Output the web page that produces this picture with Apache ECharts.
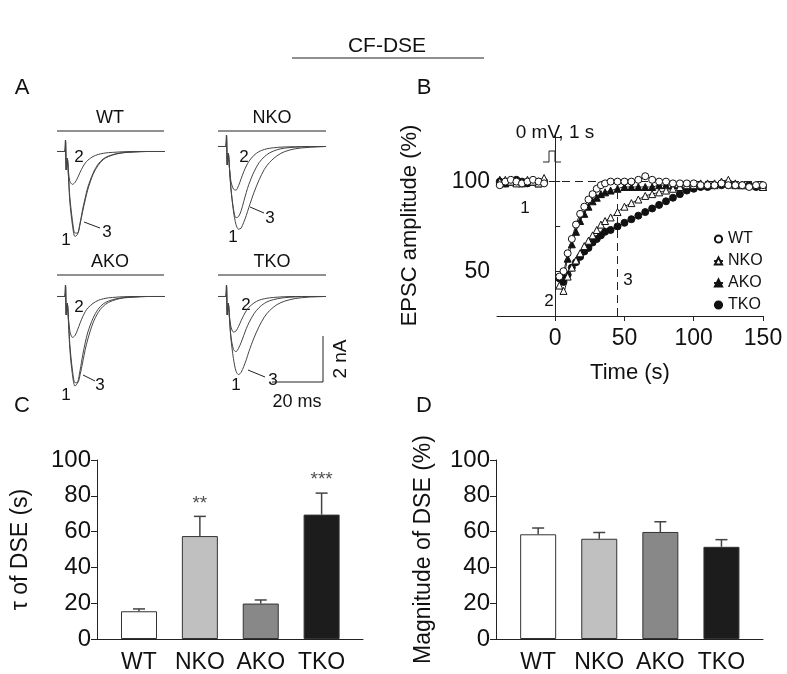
<!DOCTYPE html>
<html>
<head>
<meta charset="utf-8">
<script src="https://cdn.jsdelivr.net/npm/echarts@6/dist/echarts.min.js"></script>
<style>
    html, body { margin: 0; padding: 0; background: #fff; }
    #main { width: 787px; height: 674px; }
</style>
</head>
<body>
<div id="main"></div>
<script type="text/javascript">
// panel A: example EPSC traces (nA) sampled at tA (ms); 1 = before, 2 = just after, 3 = ~45 s after
var tA = [0, 3, 3.3, 3.6, 4, 4.5, 5, 6, 7, 8, 9, 10, 11, 12, 14, 16, 18, 20, 23, 26, 30, 35, 42];
var wt1 = [0, 0, 0.5, -0.8, -0.3, -1.2, -2.2, -3.2, -3.7, -3.6, -3.1, -2.5, -2.0, -1.55, -0.95, -0.55, -0.32, -0.2, -0.1, -0.05, -0.02, 0, 0];
var wt2 = [0, 0, 0.5, -0.8, -0.3, -0.9, -1.3, -1.43, -1.35, -1.15, -0.9, -0.68, -0.5, -0.38, -0.22, -0.13, -0.08, -0.05, -0.03, -0.01, 0, 0, 0];
var wt3 = [0, 0, 0.5, -0.8, -0.3, -1.1, -2.0, -3.0, -3.55, -3.55, -3.15, -2.6, -2.1, -1.65, -1.0, -0.6, -0.35, -0.22, -0.11, -0.05, -0.02, 0, 0];
var nko1 = [0, 0, 0.5, -0.8, -0.3, -1.0, -1.8, -2.8, -3.4, -3.6, -3.55, -3.3, -3.0, -2.65, -2.0, -1.45, -1.0, -0.7, -0.4, -0.22, -0.1, -0.04, 0];
var nko2 = [0, 0, 0.5, -0.8, -0.3, -1.0, -1.5, -1.85, -1.9, -1.7, -1.4, -1.1, -0.85, -0.65, -0.38, -0.22, -0.13, -0.08, -0.04, -0.02, -0.01, 0, 0];
var nko3 = [0, 0, 0.5, -0.8, -0.3, -1.0, -1.8, -2.7, -3.1, -3.05, -2.8, -2.4, -2.0, -1.65, -1.1, -0.7, -0.45, -0.28, -0.14, -0.07, -0.03, -0.01, 0];
var ako1 = [0, 0, 0.5, -0.8, -0.3, -1.2, -2.3, -3.4, -3.9, -3.75, -3.2, -2.55, -2.0, -1.55, -0.95, -0.55, -0.32, -0.2, -0.1, -0.05, -0.02, 0, 0];
var ako2 = [0, 0, 0.5, -0.8, -0.3, -1.0, -1.5, -1.78, -1.7, -1.45, -1.15, -0.88, -0.66, -0.5, -0.3, -0.17, -0.1, -0.06, -0.03, -0.01, 0, 0, 0];
var ako3 = [0, 0, 0.5, -0.8, -0.3, -1.1, -2.1, -3.2, -3.75, -3.75, -3.4, -2.85, -2.3, -1.85, -1.15, -0.7, -0.42, -0.26, -0.13, -0.06, -0.03, 0, 0];
var tko1 = [0, 0, 0.5, -0.8, -0.3, -1.0, -1.8, -2.7, -3.25, -3.4, -3.3, -3.05, -2.75, -2.4, -1.8, -1.3, -0.9, -0.62, -0.35, -0.2, -0.09, -0.03, 0];
var tko2 = [0, 0, 0.5, -0.8, -0.3, -0.9, -1.3, -1.55, -1.5, -1.3, -1.05, -0.82, -0.62, -0.47, -0.28, -0.16, -0.1, -0.06, -0.03, -0.01, 0, 0, 0];
var tko3 = [0, 0, 0.5, -0.8, -0.3, -1.0, -1.7, -2.3, -2.4, -2.25, -2.0, -1.7, -1.4, -1.15, -0.75, -0.48, -0.3, -0.19, -0.1, -0.05, -0.02, 0, 0];

// panel B: time course (s) of EPSC amplitude (%)
var tB = [-40, -36, -32, -28, -24, -20, -16, -12, -8,
    3, 6, 9, 12, 15, 18, 21, 24, 27, 30, 33, 36, 40, 45, 50, 55, 60, 65, 70, 75,
    80, 85, 90, 95, 100, 105, 110, 115, 120, 125, 130, 135, 140, 145, 150];
var wtB = [98, 100, 101, 100, 99, 100, 101, 100, 99,
    47, 50, 60, 68, 76, 82, 86, 90, 93, 96, 98, 99, 100, 100, 100, 100, 101, 103, 101, 100,
    100, 99, 99, 99, 99, 98, 98, 98, 99, 98, 98, 98, 97, 98, 98];
var nkoB = [100, 101, 100, 99, 100, 101, 100, 99, 102,
    42, 39, 47, 52, 56, 60, 64, 67, 70, 73, 76, 78, 80, 83, 86, 88, 90, 92, 93, 94,
    95, 96, 97, 98, 98, 99, 99, 99, 100, 101, 99, 98, 98, 98, 97];
var akoB = [101, 99, 100, 100, 99, 100, 100, 99, 101,
    47, 48, 57, 65, 72, 78, 82, 86, 89, 91, 93, 94, 95, 96, 97, 97, 97, 97, 97, 98,
    98, 98, 98, 98, 98, 98, 98, 98, 99, 99, 98, 98, 98, 98, 97];
var tkoB = [100, 99, 100, 101, 100, 99, 100, 100, 100,
    46, 44, 48, 52, 55, 58, 61, 63, 66, 68, 70, 72, 73, 75, 77, 79, 81, 83, 85, 87,
    89, 91, 93, 95, 96, 97, 97, 98, 98, 98, 98, 98, 98, 97, 97];

// panels C and D: bars (mean) with SEM tops
var groups = ['WT', 'NKO', 'AKO', 'TKO'];
var barColors = ['#ffffff', '#c0c0c0', '#888888', '#1c1c1c'];
var tauMean = [15.5, 57.5, 19.8, 69.5];
var tauErr = [16.8, 68.5, 21.8, 81.5];
var tauStars = ['', '**', '', '***'];
var magMean = [58.5, 56, 59.8, 51.5];
var magErr = [62, 59.5, 65.5, 55.5];

var FONT = 'Liberation Sans, Arial, sans-serif';
var chart = echarts.init(document.getElementById('main'));

function pairs(xs, ys, breakAtZero) {
    var out = [];
    for (var i = 0; i < xs.length; i++) {
        if (breakAtZero && i > 0 && xs[i - 1] < 0 && xs[i] > 0) out.push([0, '-']);
        out.push([xs[i], ys[i]]);
    }
    return out;
}

// ---- panel A grids ----
var traceSets = [
    { name: 'WT', tr: [wt1, wt2, wt3], left: 57, top: 140 },
    { name: 'NKO', tr: [nko1, nko2, nko3], left: 218, top: 135 },
    { name: 'AKO', tr: [ako1, ako2, ako3], left: 57, top: 285 },
    { name: 'TKO', tr: [tko1, tko2, tko3], left: 218, top: 285 }
];
var grids = [], xAxes = [], yAxes = [], series = [];
traceSets.forEach(function (p, k) {
    grids.push({ left: p.left, top: p.top, width: 108, height: 108 });
    xAxes.push({ gridIndex: k, type: 'value', min: 0, max: 42, show: false });
    yAxes.push({ gridIndex: k, type: 'value', min: -4.2, max: 0.5, show: false });
    p.tr.forEach(function (arr) {
        series.push({
            type: 'line', xAxisIndex: k, yAxisIndex: k, data: pairs(tA, arr),
            smooth: 0.3, symbol: 'none', silent: true,
            lineStyle: { color: '#444', width: 1 }
        });
    });
});

// ---- panel B ----
var gB = grids.length;
grids.push({ left: 497, right: 24, top: 135, bottom: 358 });
xAxes.push({
    gridIndex: gB, type: 'value', min: -42, max: 150,
    name: 'Time (s)', nameLocation: 'middle', nameGap: 46,
    nameTextStyle: { fontFamily: FONT, fontSize: 22, color: '#111' },
    axisLine: { lineStyle: { color: '#222' } },
    axisTick: { customValues: [0, 50, 100, 150], length: 5, lineStyle: { color: '#222' } },
    axisLabel: { customValues: [0, 50, 100, 150], fontFamily: FONT, fontSize: 23, color: '#111', margin: 11 },
    splitLine: { show: false }
});
yAxes.push({
    gridIndex: gB, type: 'value', min: 25, max: 126,
    name: 'EPSC amplitude (%)', nameLocation: 'middle', nameGap: 76,
    nameTextStyle: { fontFamily: FONT, fontSize: 22, color: '#111' },
    axisLine: { show: true, lineStyle: { color: '#222' } },
    axisTick: { customValues: [50, 75, 100, 125], inside: true, length: 5, lineStyle: { color: '#222' } },
    axisLabel: { customValues: [50, 100], fontFamily: FONT, fontSize: 23, color: '#111', margin: 7 },
    splitLine: { show: false }
});
var bSeries = [
    { name: 'TKO', data: tkoB, symbol: 'circle', fill: '#111', z: 3 },
    { name: 'AKO', data: akoB, symbol: 'triangle', fill: '#111', z: 4 },
    { name: 'NKO', data: nkoB, symbol: 'triangle', fill: '#fff', z: 5 },
    { name: 'WT', data: wtB, symbol: 'circle', fill: '#fff', z: 6 }
];
bSeries.forEach(function (s, i) {
    var obj = {
        type: 'line', name: s.name, xAxisIndex: gB, yAxisIndex: gB, z: s.z,
        data: pairs(tB, s.data, true), smooth: 0.4, symbol: s.symbol, symbolSize: 7,
        connectNulls: false,
        itemStyle: { color: s.fill, borderColor: '#111', borderWidth: 1 },
        lineStyle: { color: '#222', width: 1 }
    };
    if (i === 0) {
        obj.markLine = {
            silent: true, symbol: 'none', label: { show: false },
            lineStyle: { color: '#222', type: [8, 5], width: 1 },
            data: [
                [{ coord: [-42, 100] }, { coord: [150, 100] }],
                [{ coord: [45, 25] }, { coord: [45, 96] }]
            ]
        };
    }
    series.push(obj);
});

// ---- panels C and D ----
function barPanel(left, right, means, errs, stars, yName, nameGap) {
    var g = grids.length;
    grids.push({ left: left, right: right, top: 460, bottom: 35 });
    xAxes.push({
        gridIndex: g, type: 'value', min: 0.31, max: 4.68,
        axisLine: { lineStyle: { color: '#222' } },
        axisTick: { show: false },
        axisLabel: {
            customValues: [1, 2, 3, 4], fontFamily: FONT, fontSize: 23, color: '#111', margin: 12,
            formatter: function (v) { return groups[Math.round(v) - 1]; }
        },
        splitLine: { show: false }
    });
    yAxes.push({
        gridIndex: g, type: 'value', min: 0, max: 100, interval: 20,
        name: yName, nameLocation: 'middle', nameGap: nameGap,
        nameTextStyle: { fontFamily: FONT, fontSize: 23, color: '#111' },
        axisLine: { show: true, lineStyle: { color: '#222' } },
        axisTick: { show: true, length: 6, lineStyle: { color: '#222' } },
        axisLabel: { fontFamily: FONT, fontSize: 24, color: '#111', margin: 6 },
        splitLine: { show: false }
    });
    var barData = means.map(function (m, i) {
        return { value: [i + 1, m], itemStyle: { color: barColors[i] } };
    });
    series.push({
        type: 'bar', xAxisIndex: g, yAxisIndex: g, data: barData, barWidth: 36, z: 3,
        itemStyle: { borderColor: '#333', borderWidth: 1 }
    });
    series.push({
        type: 'custom', xAxisIndex: g, yAxisIndex: g, z: 2, silent: true,
        data: means.map(function (m, i) { return [i + 1, m, errs[i]]; }),
        renderItem: function (params, api) {
            var b = api.coord([api.value(0), api.value(1)]);
            var t = api.coord([api.value(0), api.value(2)]);
            var st = { stroke: '#444', lineWidth: 1.5 };
            return {
                type: 'group', children: [
                    { type: 'line', shape: { x1: b[0], y1: b[1], x2: t[0], y2: t[1] }, style: st },
                    { type: 'line', shape: { x1: t[0] - 6, y1: t[1], x2: t[0] + 6, y2: t[1] }, style: st }
                ]
            };
        }
    });
    if (stars) {
        series.push({
            type: 'scatter', xAxisIndex: g, yAxisIndex: g, symbolSize: 0, silent: true,
            data: errs.map(function (e, i) { return { value: [i + 1, e + 2], name: stars[i] }; }),
            label: {
                show: true, position: 'top', distance: 0, fontFamily: FONT, fontSize: 19, color: '#222',
                formatter: function (p) { return p.name; }
            }
        });
    }
}
barPanel(97, 424, tauMean, tauErr, tauStars, 'τ of DSE (s)', 65);
barPanel(496, 24, magMean, magErr, null, 'Magnitude of DSE (%)', 61);

// ---- annotations ----
function txt(x, y, s, size, extra) {
    var o = { type: 'text', x: x, y: y, style: { text: s, fontFamily: FONT, fontSize: size || 18, fill: '#111', textAlign: 'center', textVerticalAlign: 'middle' } };
    if (extra) for (var k in extra) o[k] = extra[k];
    return o;
}
function seg(x1, y1, x2, y2, w) {
    return { type: 'line', shape: { x1: x1, y1: y1, x2: x2, y2: y2 }, style: { stroke: '#222', lineWidth: w || 1 } };
}
var graphics = [
    txt(387, 46, 'CF-DSE', 21), seg(292, 58, 484, 58, 1.2),
    txt(22, 88, 'A', 22), txt(424, 88, 'B', 22), txt(22, 406, 'C', 22), txt(424, 406, 'D', 22),
    txt(110, 118, 'WT'), seg(57, 131, 164, 131), txt(272, 118, 'NKO'), seg(218, 131, 326, 131),
    txt(110, 262, 'AKO'), seg(57, 275, 164, 275), txt(272, 262, 'TKO'), seg(218, 275, 326, 275),
    txt(79, 157, '2', 17), txt(107, 232, '3', 17), txt(66, 240, '1', 17), seg(84, 222, 100, 228),
    txt(244, 157, '2', 17), txt(270, 218, '3', 17), txt(233, 237, '1', 17), seg(250, 207, 264, 213),
    txt(79, 307, '2', 17), txt(100, 385, '3', 17), txt(66, 395, '1', 17), seg(83, 375, 95, 381),
    txt(246, 305, '2', 17), txt(273, 380, '3', 17), txt(236, 385, '1', 17), seg(248, 370, 265, 377),
    seg(323, 336, 323, 382), seg(272, 382, 323, 382),
    txt(341, 359, '2 nA', 19, { rotation: Math.PI / 2 }),
    txt(297, 402, '20 ms', 18),
    txt(555, 133, '0 mV, 1 s', 19),
    { type: 'polyline', shape: { points: [[543, 162], [549, 162], [549, 151], [555, 151], [555, 162], [561, 162]] }, style: { stroke: '#222', fill: null, lineWidth: 1 } },
    txt(525, 208, '1', 17), txt(549, 301, '2', 17), txt(628, 280, '3', 17)
];

chart.setOption({
    animation: false,
    backgroundColor: '#fff',
    grid: grids,
    xAxis: xAxes,
    yAxis: yAxes,
    legend: {
        data: ['WT', 'NKO', 'AKO', 'TKO'], orient: 'vertical', left: 708, top: 226,
        itemWidth: 9, itemHeight: 9, itemGap: 6,
        textStyle: { fontFamily: FONT, fontSize: 16, color: '#111' }
    },
    series: series,
    graphic: graphics
});
</script>
</body>
</html>
